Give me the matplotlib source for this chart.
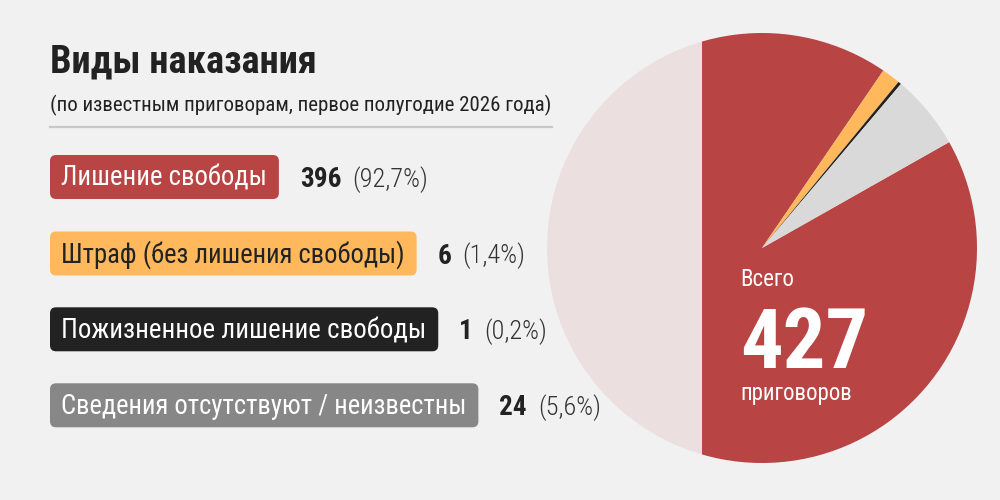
import matplotlib
matplotlib.use('Agg')
import matplotlib.pyplot as plt
from matplotlib import font_manager
from matplotlib.patches import FancyBboxPatch, Rectangle

# data
categories = ['Лишение свободы', 'Штраф (без лишения свободы)',
              'Пожизненное лишение свободы', 'Сведения отсутствуют / неизвестны']
counts = [396, 6, 1, 24]
wedge_colors = ['#b84444', '#ffb85c', '#222222', '#d9d9d9']
box_colors = ['#b84444', '#ffb85c', '#222222', '#878787']
label_colors = ['white', '#222222', 'white', 'white']

title = 'Виды наказания'
subtitle = '(по известным приговорам, первое полугодие 2026 года)'
total_top = 'Всего'
total_bottom = 'приговоров'

# pick a narrow family if one is there
installed = {f.name for f in font_manager.fontManager.ttflist}
FONT = next((n for n in ['Roboto Condensed', 'Liberation Sans Narrow', 'Roboto']
             if n in installed), 'DejaVu Sans')

BG = '#f1f1f1'
DARK = '#222222'

fig = plt.figure(figsize=(10, 5), dpi=100, facecolor=BG)
ax = fig.add_axes([0, 0, 1, 1])
ax.set_facecolor(BG)


def Y(y):
    # image rows -> data y
    return 500 - y


total = sum(counts)
ax.pie(counts, colors=wedge_colors, center=(762, Y(248)), radius=215,
       startangle=29.5, counterclock=False, wedgeprops=dict(linewidth=0))
# faded left part of the pie
ax.add_patch(Rectangle((540, 0), 162, 500, facecolor=BG, alpha=0.9, lw=0, zorder=3))
ax.set_xlim(0, 1000)
ax.set_ylim(0, 500)
ax.set_aspect('equal')
ax.axis('off')

renderer = fig.canvas.get_renderer()


def fit_text(x, y, s, size, max_w, tol=1.0, **kw):
    t = ax.text(x, Y(y), s, fontsize=size, family=FONT, va='baseline',
                ha='left', zorder=5, **kw)
    w = t.get_window_extent(renderer).width
    if w > max_w * tol:
        t.set_fontsize(size * max_w * tol / w)
    return t


def right_edge(t):
    return t.get_window_extent(renderer).x1


# header
fit_text(50, 72.7, title, 28, 267, fontweight='bold', color=DARK)
fit_text(50, 111.7, subtitle, 15, 503, color=DARK)
ax.plot([50, 552], [Y(126.7), Y(126.7)], color='#c8c8c8', lw=1.6, zorder=4)

# legend rows
tops = [155, 231.5, 307.3, 383.3]
label_w = [205, 344, 364, 404]
for i, cat in enumerate(categories):
    top = tops[i]
    t = fit_text(61, top + 31, cat, 21, label_w[i], color=label_colors[i])
    x1 = right_edge(t) + 12
    ax.add_patch(FancyBboxPatch((50, Y(top + 44)), x1 - 50, 44,
                                boxstyle='round,pad=0,rounding_size=6',
                                fc=box_colors[i], lw=0, zorder=4))
    n = ax.text(x1 + 21, Y(top + 32), str(counts[i]), fontsize=19.5,
                fontweight='bold', family=FONT, color=DARK, va='baseline', zorder=5)
    pct = '({:.1f}%)'.format(counts[i] / total * 100).replace('.', ',')
    ax.text(right_edge(n) + 11, Y(top + 32), pct, fontsize=19,
            fontweight='light', family=FONT, color='#333333', va='baseline', zorder=5)

# total inside the pie
fit_text(740, 286, total_top, 16.5, 58, color='white')
fit_text(740, 368, str(total), 66, 128, fontweight='bold', color='white')
fit_text(740, 400, total_bottom, 16.5, 119, color='white')

fig.savefig('out.png', dpi=100, facecolor=BG)
